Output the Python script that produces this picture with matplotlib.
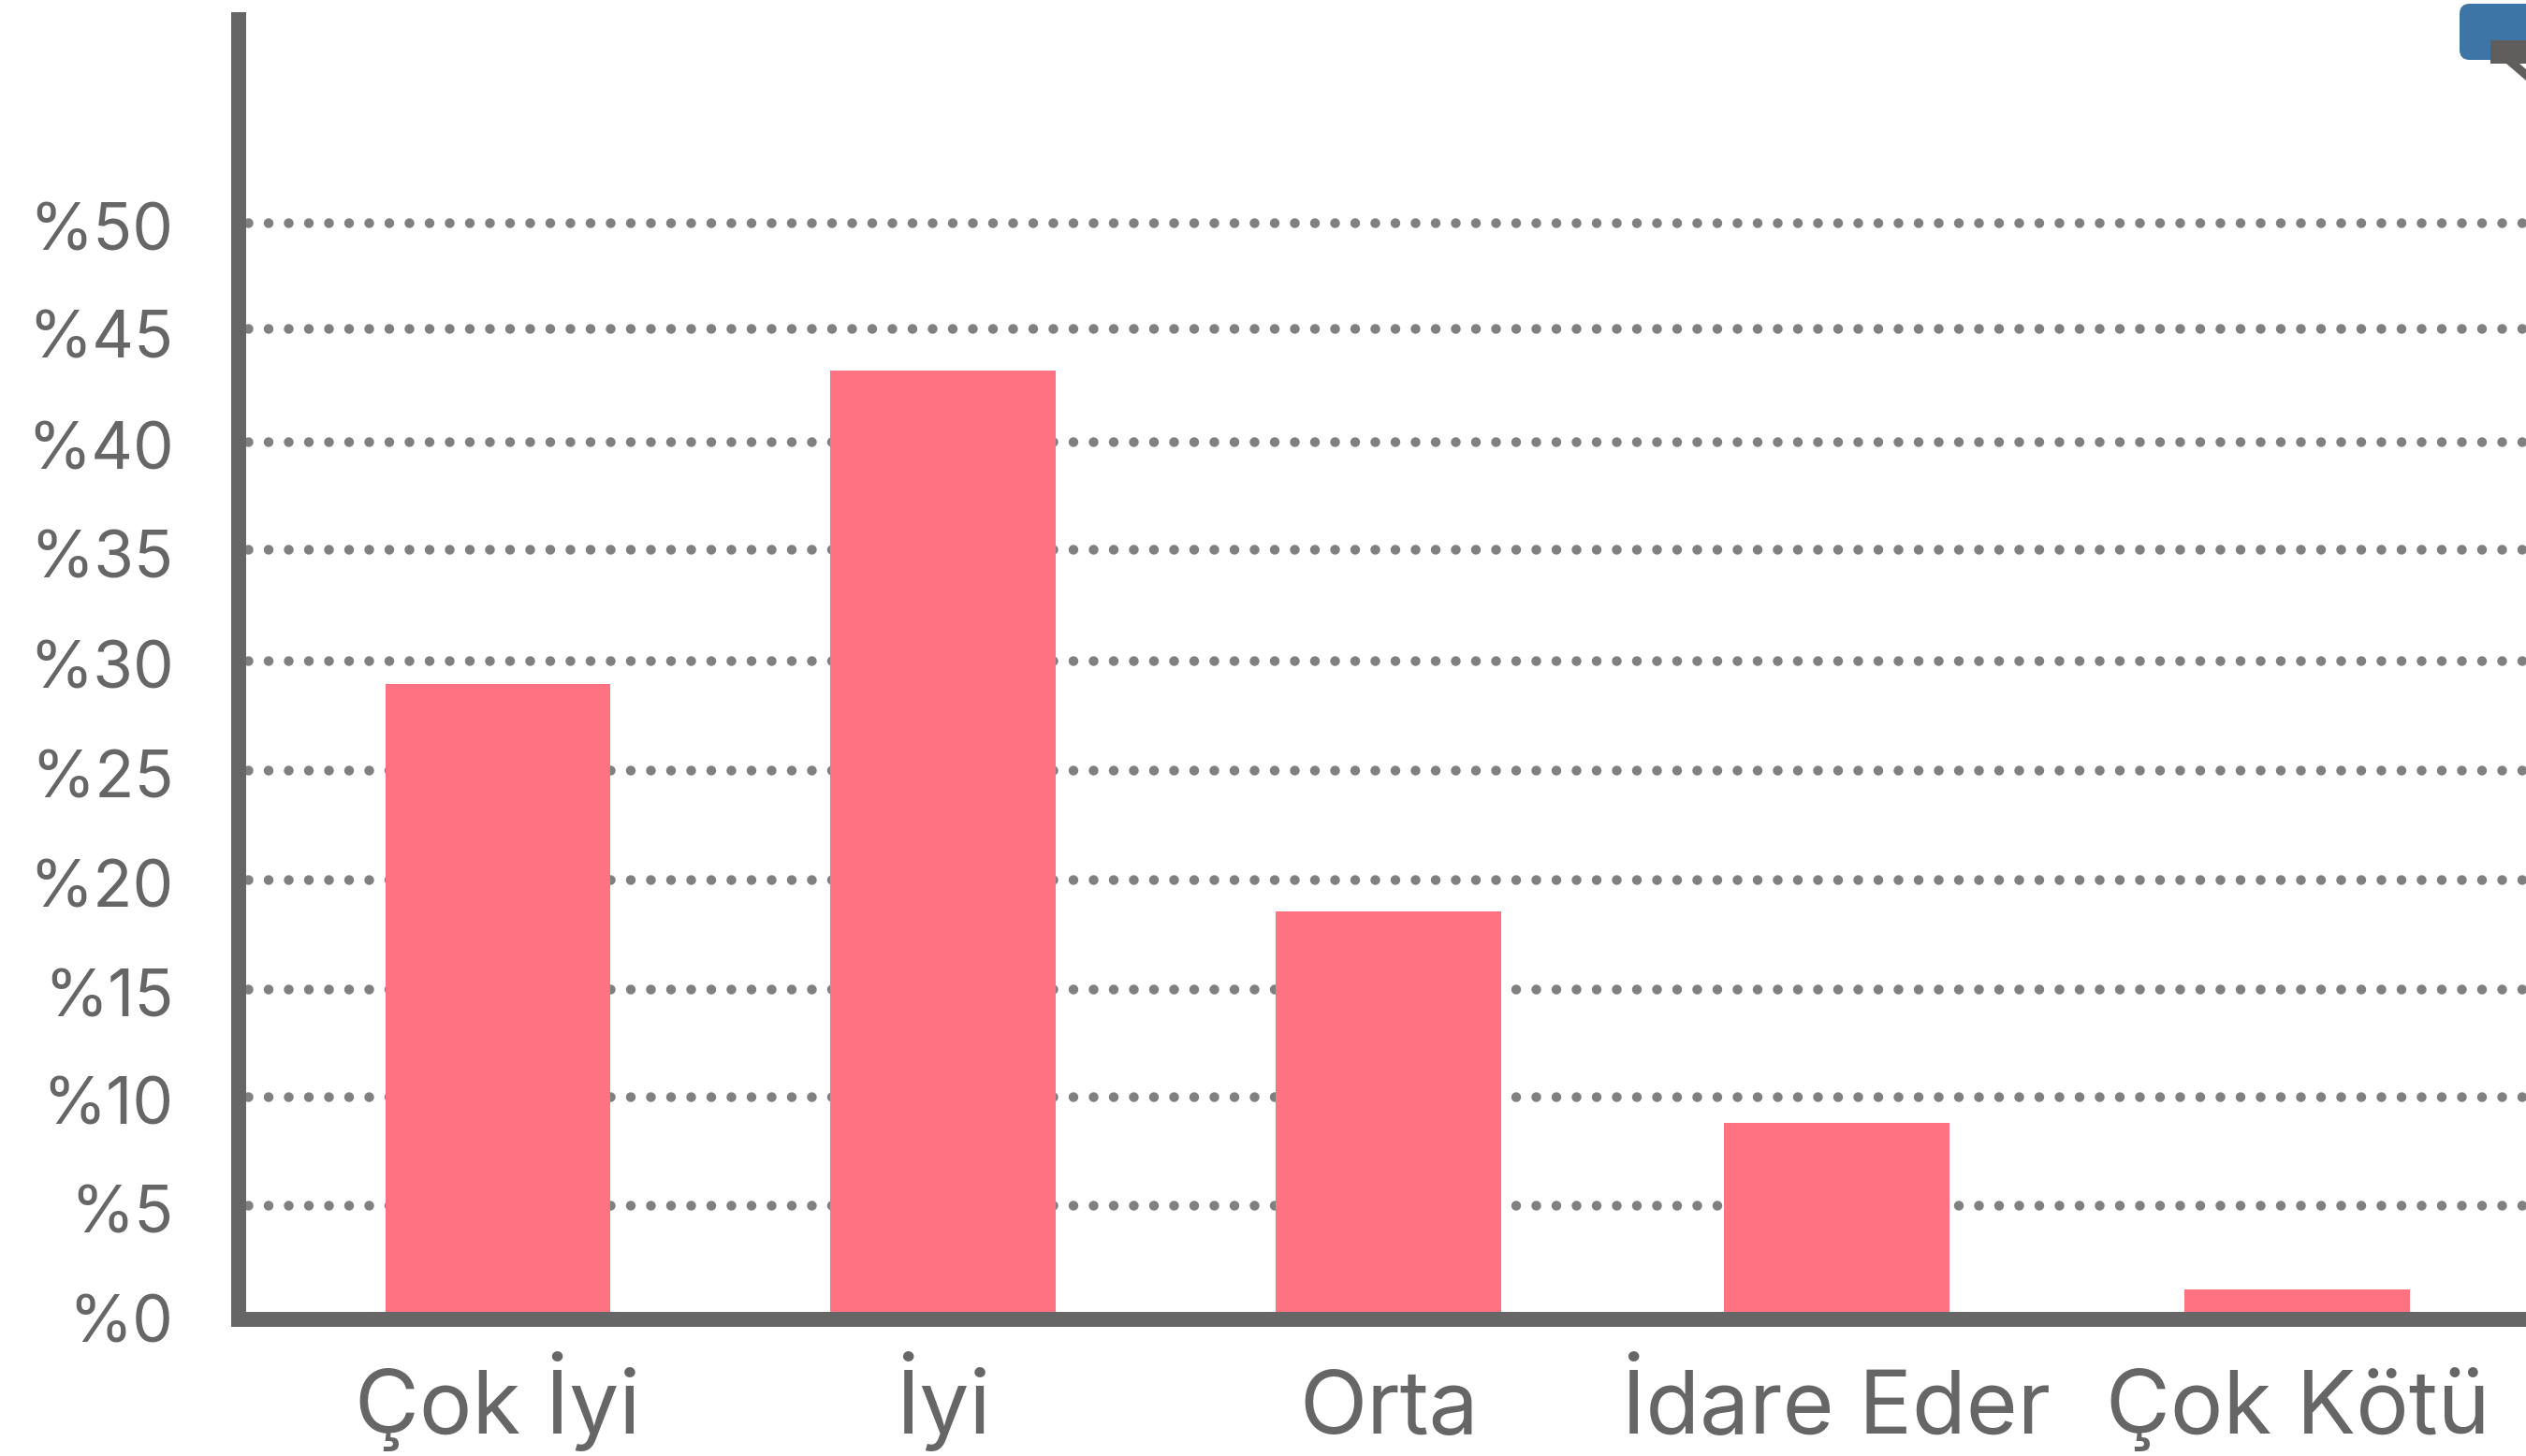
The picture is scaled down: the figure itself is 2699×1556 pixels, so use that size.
import matplotlib
matplotlib.use('Agg')
import matplotlib.pyplot as plt
from matplotlib.patches import FancyBboxPatch, Polygon, Rectangle

W, H = 2699, 1556

# Bars (percent)
categories = ['Çok İyi', 'İyi', 'Orta', 'İdare Eder', 'Çok Kötü']
values = [28.88, 43.25, 18.45, 8.78, 1.14]
# The bars are not quite evenly spaced in the original
bar_pos = [0, 1, 2, 3.005, 4.04]

# Tick labels and where they sit, the dotted lines drift a little from them
tick_labels = ['%0', '%5', '%10', '%15', '%20', '%25', '%30', '%35', '%40', '%45', '%50']
tick_levels = [-0.15, 4.85, 9.8, 14.75, 19.75, 24.75, 29.8, 34.85, 39.8, 44.9, 49.85]
grid_levels = [5.01, 9.98, 14.91, 19.92, 24.94, 29.95, 35.05, 39.97, 45.16, 50.0]

grey = '#666666'
plt.rcParams['font.family'] = ['Inter', 'DejaVu Sans']

fig = plt.figure(figsize=(W / 100, H / 100), dpi=100)
ax = fig.add_axes([255 / W, 1 - 1410 / H, 1 - 255 / W, (1410 - 21) / H])
ax.set_xlim(-0.582, 4.553)
ax.set_ylim(-0.214, 59.3)

# dots of 10.5 px every 21.5 px
lw = 10.5 * 0.72
period = 21.5 / 10.5
for g in grid_levels:
    ax.plot([-0.582, 4.553], [g, g], color='#808080', lw=lw, dash_capstyle='round',
            linestyle=(period - 10 / 10.5, (0.001, period - 0.001)), zorder=1)

ax.bar(bar_pos, values, width=241 / 476, color='#FF7282', zorder=2)

for s in ['top', 'right']:
    ax.spines[s].set_visible(False)
for s in ['left', 'bottom']:
    ax.spines[s].set_linewidth(16 * 0.72)
    ax.spines[s].set_color(grey)
    ax.spines[s].set_zorder(3)

ax.set_yticks(tick_levels, tick_labels)
ax.set_xticks(bar_pos, categories)
ax.tick_params(axis='y', length=0, pad=50, labelsize=50, labelcolor=grey)
ax.tick_params(axis='x', length=0, pad=88, labelsize=68, labelcolor=grey)
for t in ax.get_xticklabels():
    t.set_verticalalignment('baseline')


def px(x, y):
    return x / W, 1 - y / H


# Cropped callout in the top right corner
fig.add_artist(FancyBboxPatch(px(2628, 64), 120 / W, 60 / H, boxstyle='round,pad=0,rounding_size=0.004',
                              mutation_aspect=W / H, transform=fig.transFigure,
                              fc='#3D76A6', ec='none'))
fig.add_artist(Rectangle(px(2661, 68), 38 / W, 25 / H, transform=fig.transFigure, fc='#5F5E5C', ec='none'))
fig.add_artist(Polygon([px(2678, 68), px(2692, 68), px(2699, 74), px(2699, 86)], closed=True,
                       transform=fig.transFigure, fc='#5F5E5C', ec='none'))

fig.savefig('out.png', dpi=100)
